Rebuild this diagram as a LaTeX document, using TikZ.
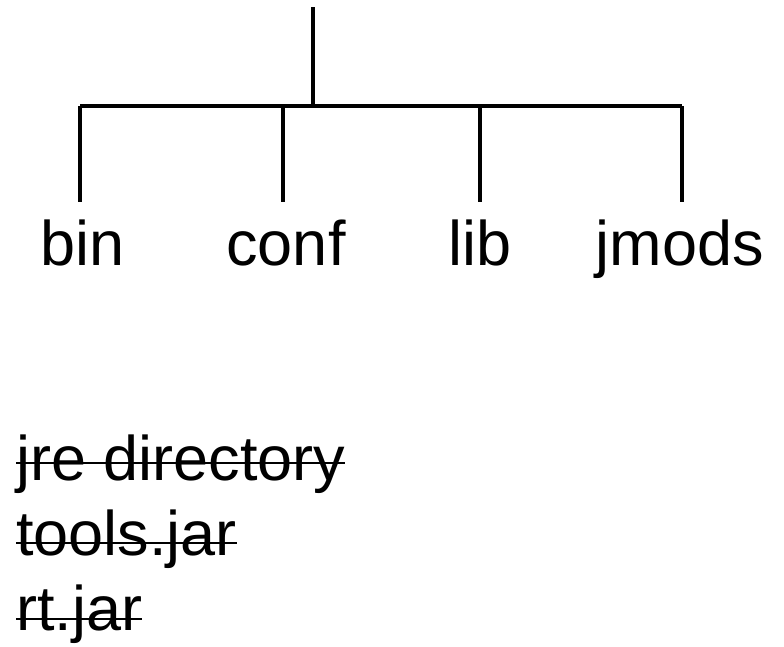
\documentclass[tikz,border=0pt]{standalone}
\usepackage{fontspec}
\setmainfont{Liberation Sans}
\usetikzlibrary{positioning,calc}

\tikzset{
    dir/.style={inner sep=0pt, anchor=base, font=\fontsize{63}{75}\selectfont},
    gone/.style={inner sep=0pt, anchor=base west, font=\fontsize{63}{75}\selectfont},
    branch/.style={line width=4pt},
    strike/.style={line width=2pt}
}

\begin{document}
\begin{tikzpicture}[x=1pt,y=-1pt]
    \useasboundingbox (0,0) rectangle (784,646);

    \coordinate (top) at (313,7);
    \coordinate (hub) at (313,106);
    \coordinate (barL) at (80,106);
    \coordinate (barR) at (682,106);

    \draw[branch] (top) -- (hub);
    \draw[branch] (barL) -- (barR);

    \node[dir] (bin) at (83,265) {bin};
    \node[dir] (conf) at (286,265) {conf};
    \node[dir] (lib) at (480,265) {lib};
    \node[dir] (jmods) at (680,265) {jmods};

    \coordinate (binEnd) at (80,202);
    \coordinate (confEnd) at (283,202);
    \coordinate (libEnd) at (480,202);
    \coordinate (jmodsEnd) at (682,202);

    \draw[branch] (barL) -- (binEnd);
    \draw[branch] (barL -| confEnd) -- (confEnd);
    \draw[branch] (barL -| libEnd) -- (libEnd);
    \draw[branch] (barR) -- (jmodsEnd);

    % removed from the layout
    \node[gone] (jre) at (16,480) {jre directory};
    \node[gone] (tools) at (16,555) {tools.jar};
    \node[gone] (rt) at (16,630) {rt.jar};

    \draw[strike] ([yshift=17pt]jre.base west) -- ([yshift=17pt]jre.base east);
    \draw[strike] ([yshift=12pt]tools.base west) -- ([yshift=12pt]tools.base east);
    \draw[strike] ([yshift=11pt]rt.base west) -- ([yshift=11pt]rt.base east);
\end{tikzpicture}
\end{document}
